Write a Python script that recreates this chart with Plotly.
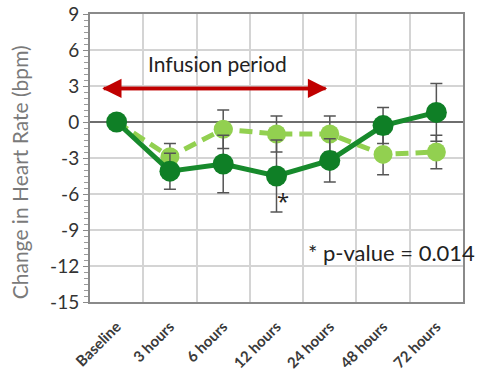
import plotly.graph_objects as go

# Time points and heart-rate change (bpm), mean with error
categories = ["Baseline", "3 hours", "6 hours", "12 hours", "24 hours", "48 hours", "72 hours"]
dark_values = [0.0, -4.1, -3.5, -4.5, -3.2, -0.3, 0.8]
dark_errors = [0.0, 1.5, 2.4, 3.0, 1.8, 1.5, 2.4]
light_values = [0.0, -2.9, -0.6, -1.0, -1.0, -2.7, -2.5]
light_errors = [0.0, 1.1, 1.6, 1.5, 1.5, 1.7, 1.4]
y_ticks = [9, 6, 3, 0, -3, -6, -9, -12, -15]
y_tick_text = ["9", "6", "3", "0", "-3", "-6", "-9", "-12", "-15"]

x_pos = list(range(len(categories)))
font_family = "Lato, 'Open Sans', sans-serif"

fig = go.Figure()

fig.add_trace(go.Scatter(
    x=x_pos, y=light_values,
    mode="lines+markers",
    line=dict(color="#92d050", width=5, dash="13px,7px"),
    marker=dict(color="#92d050", size=19),
    error_y=dict(type="data", array=light_errors, visible=True,
                 color="#555555", thickness=1.5, width=6),
    showlegend=False,
))
fig.add_trace(go.Scatter(
    x=x_pos, y=dark_values,
    mode="lines+markers",
    line=dict(color="#178a2c", width=5),
    marker=dict(color="#0f7f26", size=21),
    error_y=dict(type="data", array=dark_errors, visible=True,
                 color="#555555", thickness=1.5, width=6),
    showlegend=False,
))

# Infusion period arrow (double-headed)
fig.add_annotation(x=-0.27, y=2.8, ax=3.95, ay=2.8, xref="x", yref="y", axref="x", ayref="y",
                   text="", showarrow=True, arrowhead=2, arrowsize=1.1, arrowwidth=3.5,
                   arrowcolor="#c00000")
fig.add_annotation(x=3.95, y=2.8, ax=-0.27, ay=2.8, xref="x", yref="y", axref="x", ayref="y",
                   text="", showarrow=True, arrowhead=2, arrowsize=1.1, arrowwidth=3.5,
                   arrowcolor="#c00000")
fig.add_annotation(x=1.9, y=4.9, xref="x", yref="y", text="Infusion period",
                   showarrow=False, font=dict(family=font_family, size=21, color="#222222"))

# Significance marks
fig.add_annotation(x=3.13, y=-6.5, xref="x", yref="y", text="*",
                   showarrow=False, font=dict(family="'Open Sans', sans-serif", size=22, color="#222222"))
fig.add_annotation(x=3.55, y=-10.9, xref="x", yref="y", text="* p-value = 0.014",
                   showarrow=False, xanchor="left",
                   font=dict(family=font_family, size=22, color="#222222"))

# Y-axis title placed as a rotated annotation
fig.add_annotation(x=-0.188, y=-4.2, xref="paper", yref="y", text="Change in Heart Rate (bpm)",
                   textangle=-90, showarrow=False, xanchor="center", yanchor="middle",
                   font=dict(family=font_family, size=21, color="#7a7a7a"))

fig.update_xaxes(
    range=[-0.5, 6.5], automargin=False,
    tickvals=x_pos, ticktext=categories, tickangle=-45,
    tickfont=dict(family=font_family, size=15, color="#3a3a3a", weight="bold"),
    ticklabelstandoff=8,
    showgrid=False,
    minor=dict(tickvals=[i + 0.5 for i in range(len(categories) - 1)],
               showgrid=True, gridcolor="#d4d4d4", gridwidth=1.5, ticks=""),
    showline=True, linecolor="#8a8a8a", linewidth=2, mirror=True,
    ticks="", zeroline=False,
)
fig.update_yaxes(
    range=[-15, 9], automargin=False,
    tickvals=y_ticks, ticktext=y_tick_text,
    tickfont=dict(family=font_family, size=19, color="#333333"),
    showgrid=True, gridcolor="#d4d4d4", gridwidth=1.5,
    zeroline=True, zerolinecolor="#6e6e6e", zerolinewidth=1.5,
    showline=True, linecolor="#8a8a8a", linewidth=2, mirror=True,
    ticks="outside", ticklen=5, tickcolor="#8a8a8a",
    minor=dict(dtick=0.5, ticks="outside", ticklen=4, tickcolor="#9a9a9a", showgrid=False),
)

fig.update_layout(
    width=480, height=380,
    margin=dict(l=90, r=17, t=14, b=78),
    paper_bgcolor="white", plot_bgcolor="white",
)

fig.write_html("out.html")
